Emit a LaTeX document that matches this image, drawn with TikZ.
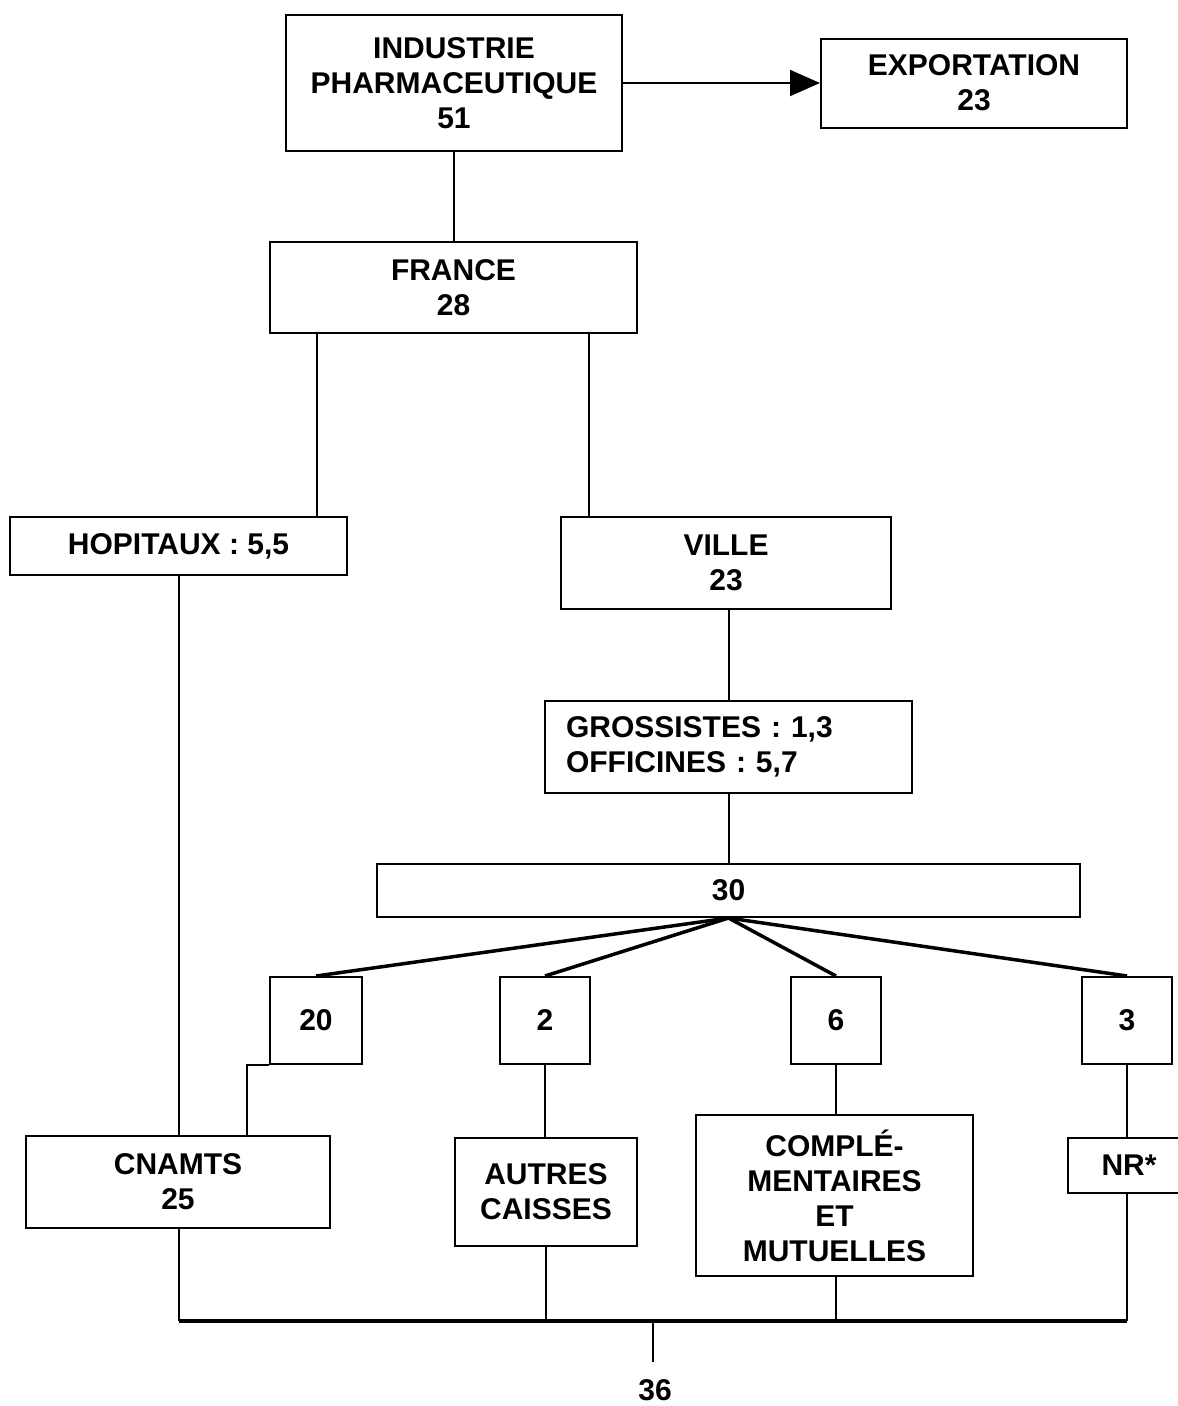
\documentclass[tikz,border=0pt]{standalone}
\usepackage{fontspec}
\setmainfont{Liberation Sans}
\usetikzlibrary{arrows.meta}
\begin{document}
\begin{tikzpicture}[x=1pt,y=-1pt,
  box/.style={draw, line width=2pt, inner sep=0pt, align=center,
    font=\fontsize{30pt}{35pt}\selectfont\bfseries},
  wire/.style={line width=2pt},
  fan/.style={line width=3.5pt},
  bus/.style={line width=4.5pt}]
\useasboundingbox (0,0) rectangle (1178,1406);
\clip (0,0) rectangle (1178,1406);
\node[box, minimum width=336pt, minimum height=136pt] (ind) at (454,83) {INDUSTRIE\\PHARMACEUTIQUE\\51};
\node[box, minimum width=306pt, minimum height=89pt] (exp) at (974,83) {EXPORTATION\\23};
\node[box, minimum width=367pt, minimum height=91pt] (fra) at (453.5,287.5) {FRANCE\\28};
\node[box, minimum width=337pt, minimum height=58pt] (hop) at (178.5,546) {HOPITAUX : 5,5};
\node[box, minimum width=330pt, minimum height=92pt] (vil) at (726,563) {VILLE\\23};
\node[box, minimum width=367pt, minimum height=92pt, text width=325pt, align=left] (gro) at (728.5,747) {GROSSISTES : 1,3\\OFFICINES : 5,7};
\node[box, minimum width=703pt, minimum height=53pt] (n30) at (728.5,890.5) {30};
\node[box, minimum width=92pt, minimum height=87pt] (b20) at (316,1020.5) {20};
\node[box, minimum width=90pt, minimum height=87pt] (b2) at (545,1020.5) {2};
\node[box, minimum width=90pt, minimum height=87pt] (b6) at (836,1020.5) {6};
\node[box, minimum width=90pt, minimum height=87pt] (b3) at (1127,1020.5) {3};
\node[box, minimum width=304pt, minimum height=92pt] (cna) at (178,1182) {CNAMTS\\25};
\node[box, minimum width=182pt, minimum height=108pt] (aut) at (546,1192) {AUTRES\\CAISSES};
\node[box, minimum width=277pt, minimum height=161pt] (com) at (834.5,1195.5) {COMPLÉ-\\MENTAIRES\\ET\\MUTUELLES};
\node[box, minimum width=122pt, minimum height=55pt] (nr) at (1129,1165.5) {NR*};
\node[font=\fontsize{30pt}{35pt}\selectfont\bfseries, inner sep=0pt] (n36) at (655,1390) {36};
\coordinate (bus) at (653,1321);
% connectors
\draw[wire, -{Triangle[length=30pt,width=26pt]}] (ind.east) -- (exp.west);
\draw[wire] (ind.south) -- (ind.south |- fra.north);
\draw[wire] ([xshift=48pt]fra.south west) -- ([xshift=48pt]fra.south west |- hop.north);
\draw[wire] ([xshift=29pt]vil.north west) -- ([xshift=29pt]vil.north west |- fra.south);
\draw[wire] (gro.north |- vil.south) -- (gro.north);
\draw[wire] (gro.south) -- (gro.south |- n30.north);
\draw[fan] (n30.south) -- (b20.north);
\draw[fan] (n30.south) -- (b2.north);
\draw[fan] (n30.south) -- (b6.north);
\draw[fan] (n30.south) -- (b3.north);
\draw[wire] (b20.south west) -| ([xshift=222pt]cna.north west);
\draw[wire] ([xshift=0.5pt]hop.south) -- ([xshift=0.5pt]hop.south |- cna.north);
\draw[wire] (b2.south) -- (b2.south |- aut.north);
\draw[wire] (b6.south) -- (b6.south |- com.north);
\draw[wire] (b3.south) -- (b3.south |- nr.north);
\draw[wire] ([xshift=1pt]cna.south) -- ([xshift=1pt]cna.south |- bus);
\draw[wire] (aut.south) -- (aut.south |- bus);
\draw[wire] ([xshift=1.5pt]com.south) -- ([xshift=1.5pt]com.south |- bus);
\draw[wire] (b3.south |- nr.south) -- (b3.south |- bus);
\draw[bus] ([xshift=1pt]cna.south |- bus) -- (b3.south |- bus);
\draw[wire] (bus) -- ([yshift=17pt]n36.north -| bus);
\end{tikzpicture}
\end{document}
